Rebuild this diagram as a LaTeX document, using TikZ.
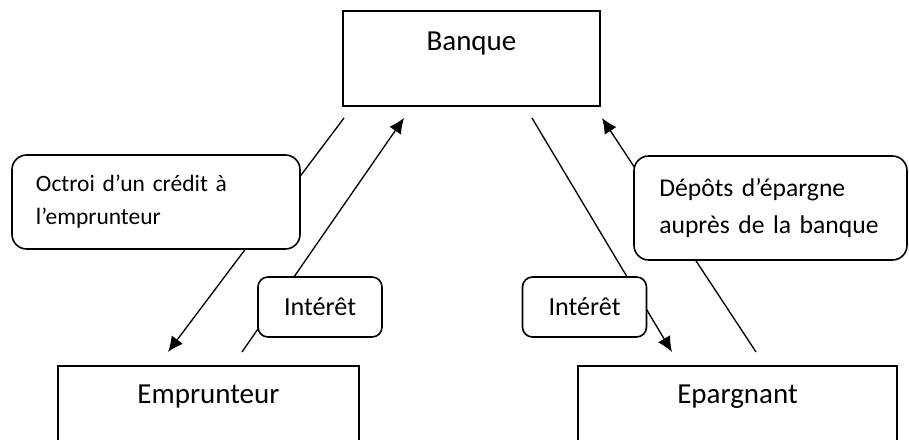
\documentclass[tikz,border=0pt]{standalone}
\usepackage{fontspec}
\setmainfont{Carlito}
\usetikzlibrary{arrows.meta}
\begin{document}
\begin{tikzpicture}[x=0.75pt,y=-0.75pt,
  box/.style={draw=black, line width=1.2pt, fill=white, inner sep=0pt},
  boxlbl/.style={font=\fontsize{21.75pt}{26pt}\selectfont, inner sep=0pt, anchor=base},
  callout/.style={draw=black, line width=1.2pt, fill=white, rounded corners=11pt, inner ysep=0pt},
  flow/.style={line width=1pt, -{Latex[length=11.5pt,width=10.5pt]}}]
\clip (0,0) rectangle (909,439);
% main boxes
\node[box, minimum width=192.75pt, minimum height=71.25pt] (banque) at (471.5,58.5) {};
\node[boxlbl] (banquetxt) at (471.5,50) {Banque};
\node[box, minimum width=225.75pt, minimum height=63pt] (emprunteur) at (208.5,408) {};
\node[boxlbl] (emprunteurtxt) at (208.5,403) {Emprunteur};
\node[box, minimum width=239.25pt, minimum height=63pt] (epargnant) at (737.5,408) {};
\node[boxlbl] (epargnanttxt) at (737.5,403) {Epargnant};
% connector ends
\coordinate (c1s) at (344,118);
\coordinate (c1e) at (168,352);
\coordinate (c2s) at (242,352);
\coordinate (c2e) at (404,118);
\coordinate (c3s) at (532,118);
\coordinate (c3e) at (672,352);
\coordinate (c4s) at (756,352);
\coordinate (c4e) at (602,118);
\draw[flow] (c1s) -- (c1e);
\draw[flow] (c2s) -- (c2e);
\draw[flow] (c3s) -- (c3e);
\draw[flow] (c4s) -- (c4e);
% callouts
\node[callout, inner xsep=18pt, text width=180pt, minimum height=70.5pt, align=left,
  font=\fontsize{17.6pt}{24.75pt}\selectfont] (octroi) at (156,202)
  {\mbox{Octroi d’un crédit à}\\\mbox{l’emprunteur}};
\node[callout, inner xsep=19pt, text width=166.75pt, minimum height=78pt, align=left,
  font=\fontsize{19.2pt}{27.75pt}\selectfont] (depots) at (770.5,208)
  {\mbox{Dépôts d’épargne}\\\mbox{auprès de la banque}};
\node[callout, rounded corners=7.5pt, inner xsep=0pt, minimum width=93pt, minimum height=45pt,
  font=\fontsize{19.6pt}{24pt}\selectfont] (interet1) at (320,307) {Intérêt};
\node[callout, rounded corners=7.5pt, inner xsep=0pt, minimum width=93pt, minimum height=45pt,
  font=\fontsize{19.6pt}{24pt}\selectfont] (interet2) at (584.5,307) {Intérêt};
\end{tikzpicture}
\end{document}
